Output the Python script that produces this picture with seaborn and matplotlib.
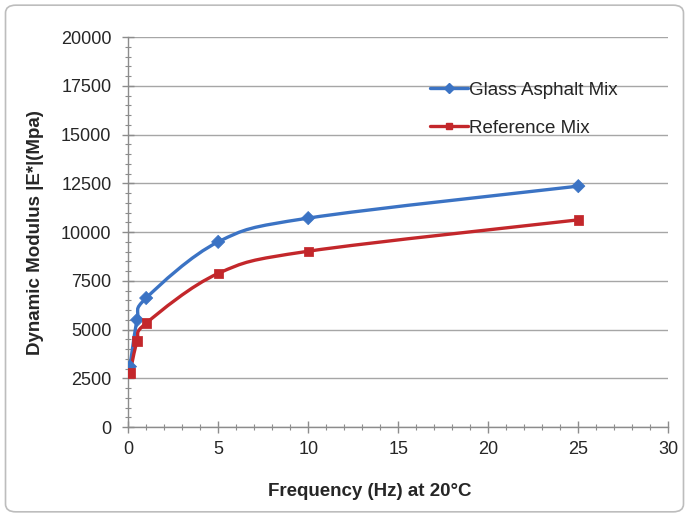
import numpy as np
import pandas as pd
import matplotlib
matplotlib.use("Agg")
import matplotlib.pyplot as plt
import seaborn as sns
from matplotlib.path import Path
from matplotlib.patches import PathPatch, FancyBboxPatch
from matplotlib.lines import Line2D
from matplotlib.ticker import MultipleLocator

freq = [0.1, 0.5, 1, 5, 10, 25]
glass = [3100, 5500, 6620, 9500, 10720, 12360]
reference = [2780, 4420, 5330, 7880, 9020, 10630]
series_names = ["Glass Asphalt Mix", "Reference Mix"]

blue = "#3b73c4"
red = "#c3272b"

sns.set_theme(style="white")
plt.rcParams["font.family"] = ["Liberation Sans", "DejaVu Sans"]

fig = plt.figure(figsize=(6.89, 5.17), dpi=100)
ax = fig.add_axes([0.186, 0.174, 0.784, 0.754])

# chart frame
fig.patches.append(FancyBboxPatch((0.008, 0.01), 0.984, 0.98, boxstyle="round,pad=0,rounding_size=0.015",
                                  transform=fig.transFigure, fill=False, edgecolor="#bdbdbd", linewidth=1.2))


def smooth_path(xs, ys):
    # Excel-style smoothed line: cubic Bezier through each point
    pts = np.column_stack([xs, ys]).astype(float)
    n = len(pts)
    verts = [pts[0]]
    codes = [Path.MOVETO]
    for i in range(n - 1):
        p0 = pts[i - 1] if i > 0 else pts[i]
        p1 = pts[i]
        p2 = pts[i + 1]
        p3 = pts[i + 2] if i + 2 < n else pts[i + 1]
        c1 = p1 + (p2 - p0) / 6
        c2 = p2 - (p3 - p1) / 6
        verts += [c1, c2, p2]
        codes += [Path.CURVE4] * 3
    return Path(verts, codes)


df = pd.DataFrame({"freq": freq * 2, "modulus": glass + reference,
                   "mix": [series_names[0]] * len(freq) + [series_names[1]] * len(freq)})

for name, vals, col in [(series_names[0], glass, blue), (series_names[1], reference, red)]:
    ax.add_patch(PathPatch(smooth_path(freq, vals), fill=False, edgecolor=col, linewidth=2.4, zorder=3))

sns.scatterplot(data=df, x="freq", y="modulus", hue="mix", style="mix",
                palette=[blue, red], markers=["D", "s"], s=45, edgecolor=None,
                legend=False, ax=ax, zorder=4)

ax.set_xlim(0, 30)
ax.set_ylim(0, 20000)
ax.xaxis.set_major_locator(MultipleLocator(5))
ax.xaxis.set_minor_locator(MultipleLocator(1))
ax.yaxis.set_major_locator(MultipleLocator(2500))
ax.yaxis.set_minor_locator(MultipleLocator(500))
ax.grid(axis="y", which="major", color="#a6a6a6", linewidth=1.0)
ax.set_axisbelow(True)

for s in ["top", "right"]:
    ax.spines[s].set_visible(False)
for s in ["left", "bottom"]:
    ax.spines[s].set_color("#8c8c8c")
    ax.spines[s].set_linewidth(1.0)

ax.tick_params(which="major", direction="inout", length=8, width=1, color="#8c8c8c",
               labelsize=13, labelcolor="#262626", left=True, bottom=True)
ax.tick_params(axis="y", which="major", pad=8)
ax.tick_params(axis="x", which="major", pad=6)
ax.tick_params(which="minor", direction="inout", length=4, width=0.8, color="#8c8c8c",
               left=True, bottom=True)

ax.set_xlabel("Frequency (Hz) at 20°C", fontsize=13.5, fontweight="bold", color="#262626", labelpad=20)
ax.set_ylabel("Dynamic Modulus |E*|(Mpa)", fontsize=13.5, fontweight="bold", color="#262626", labelpad=12)
ax.xaxis.set_label_coords(0.448, -0.143)

handles = [Line2D([], [], color=blue, marker="D", markersize=5, linewidth=2.4),
           Line2D([], [], color=red, marker="s", markersize=5, linewidth=2.4)]
ax.legend(handles, series_names, loc="upper left", bbox_to_anchor=(0.545, 0.905), frameon=False,
          fontsize=13.5, handlelength=2.0, handletextpad=0.1, labelspacing=1.1, borderaxespad=0)

fig.savefig("out.png", dpi=100)
